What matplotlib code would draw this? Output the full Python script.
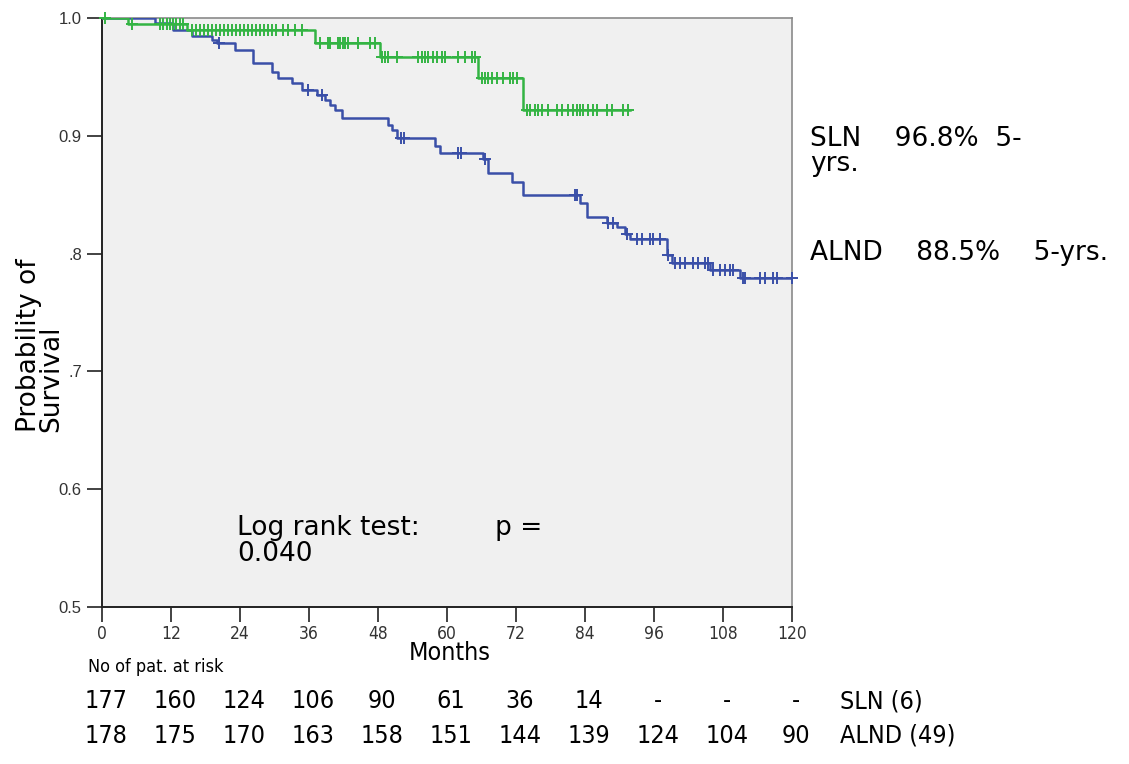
import numpy as np
import matplotlib.pyplot as plt
from matplotlib.transforms import blended_transform_factory

# Kaplan-Meier curves (months, survival after the step)
alnd_t = [0, 9.2, 12.3, 15.7, 19.1, 20.0, 23.1, 26.3, 29.6, 30.6, 33.0, 34.8, 37.4, 38.8,
          39.7, 40.5, 41.7, 49.7, 50.4, 51.3, 57.9, 58.8, 66.3, 67.1, 71.3, 73.2, 83.1,
          84.3, 87.8, 89.6, 91.0, 91.8, 98.3, 99.1, 105.7, 111.0]
alnd_s = [1.0, 0.996, 0.990, 0.985, 0.981, 0.979, 0.973, 0.962, 0.954, 0.949, 0.945, 0.939,
          0.935, 0.930, 0.926, 0.922, 0.915, 0.909, 0.905, 0.898, 0.891, 0.885, 0.880, 0.868,
          0.861, 0.850, 0.843, 0.831, 0.826, 0.823, 0.817, 0.812, 0.799, 0.792, 0.786, 0.779]
alnd_end = 120
alnd_cens = [20.3, 35.8, 38.3, 52.0, 52.5, 61.9, 62.4, 66.6, 82.3, 82.6, 88.0, 88.9, 91.3,
             93.0, 93.9, 95.3, 95.8, 97.0, 98.4, 99.7, 100.5, 101.4, 102.8, 103.7, 104.9,
             105.4, 106.3, 107.5, 108.3, 109.2, 109.7, 111.5, 111.8, 114.4, 115.3, 116.7,
             117.4, 120.0]

sln_t = [0, 4.5, 14.8, 37.0, 48.3, 65.4, 73.2]
sln_s = [1.0, 0.995, 0.990, 0.979, 0.967, 0.949, 0.922]
sln_end = 91.8
sln_cens = [0.5, 5.2, 10.1, 10.6, 11.3, 11.8, 12.3, 12.9, 13.6, 14.1,
            15.7, 16.3, 17.0, 17.7, 18.4, 19.1, 19.8, 20.5, 21.2, 21.9, 22.6, 23.3, 24.0,
            24.7, 25.4, 26.1, 26.8, 27.5, 28.2, 28.9, 29.6, 30.3, 31.5, 32.3, 33.6, 34.8,
            37.9, 39.3, 39.7, 41.0, 41.4, 41.9, 42.3, 42.8, 44.5, 46.6, 47.5,
            48.7, 49.2, 49.7, 51.3, 55.0, 55.7, 56.2, 56.7, 57.6, 58.3, 59.1, 59.7, 61.9,
            63.1, 64.3, 64.9, 66.1, 66.6, 67.1, 67.8, 68.7, 69.7, 71.0, 71.5, 72.2,
            73.9, 74.4, 75.3, 75.8, 76.5, 77.6, 79.1, 80.0, 81.0, 81.9, 82.6, 83.1, 83.7,
            84.5, 85.4, 86.1, 87.8, 88.7, 90.6, 91.5]

xticks = [0, 12, 24, 36, 48, 60, 72, 84, 96, 108, 120]
yticks = [0.5, 0.6, 0.7, 0.8, 0.9, 1.0]
ytick_labels = ['0.5', '0.6', '.7', '.8', '0.9', '1.0']

risk_sln = ['177', '160', '124', '106', '90', '61', '36', '14', '-', '-', '-']
risk_alnd = ['178', '175', '170', '163', '158', '151', '144', '139', '124', '104', '90']

BLUE = '#3a4fa8'
GREEN = '#33b443'
NARROW = dict(family='DejaVu Sans', fontstretch='condensed')


def step_at(t, s, x):
    i = np.searchsorted(t, x, side='right') - 1
    return np.array(s)[i]


W, H = 1129, 764
fig = plt.figure(figsize=(W / 100, H / 100), dpi=100)
ax = fig.add_axes([102 / W, 1 - 607 / H, 690 / W, 589 / H])
ax.set_facecolor('#f0f0f0')

for t, s, end, cens, col in [(alnd_t, alnd_s, alnd_end, alnd_cens, BLUE),
                             (sln_t, sln_s, sln_end, sln_cens, GREEN)]:
    tt = list(t) + [end]
    ss = list(s) + [s[-1]]
    ax.step(tt, ss, where='post', color=col, lw=1.8, zorder=3)
    cens = np.array(cens)
    ax.plot(cens, step_at(t, s, cens), ls='none', marker='+', ms=9, mew=1.4,
            color=col, zorder=4, clip_on=False)

ax.set_xlim(0, 120)
ax.set_ylim(0.5, 1.0)
ax.set_xticks(xticks)
ax.set_xticklabels([str(v) for v in xticks], fontsize=12.5, color='#333333', **NARROW)
ax.set_yticks(yticks)
ax.set_yticklabels(ytick_labels, family='Liberation Sans', fontsize=12, color='#333333')
ax.tick_params(axis='both', direction='out', length=11, width=1.2, color='#222222')
ax.tick_params(axis='x', pad=2)
for side in ['left', 'bottom']:
    ax.spines[side].set_color('#222222')
    ax.spines[side].set_linewidth(1.4)
for side in ['top', 'right']:
    ax.spines[side].set_color('#8a8a8a')
    ax.spines[side].set_linewidth(1.2)

big = dict(fontsize=19, family='DejaVu Sans', color='black')
fig.text(40 / W, 1 - 432 / H, 'Probability of\nSurvival', rotation=90, ha='center',
         va='bottom', multialignment='left', linespacing=0.85, **big)
fig.text(810 / W, 1 - 126 / H, 'SLN    96.8%  5-\nyrs.', ha='left', va='top',
         linespacing=0.95, **big)
fig.text(810 / W, 1 - 253 / H, 'ALND    88.5%    5-yrs.', ha='left', va='center', **big)
fig.text(237 / W, 1 - 515 / H, 'Log rank test:         p =\n0.040', ha='left', va='top',
         linespacing=1.0, **big)

fig.text(450 / W, 1 - 653 / H, 'Months', ha='center', va='center', fontsize=18, **NARROW)
fig.text(88 / W, 1 - 667 / H, 'No of pat. at risk', ha='left', va='center', fontsize=13,
         **NARROW)
tr = blended_transform_factory(ax.transData, fig.transFigure)
for row, y in [(risk_sln, 701), (risk_alnd, 736)]:
    for m, v in zip(xticks, row):
        ax.text(m + 0.7, 1 - y / H, v, transform=tr, ha='center', va='center', fontsize=18,
                clip_on=False, **NARROW)
fig.text(840 / W, 1 - 701 / H, 'SLN (6)', ha='left', va='center', fontsize=18, **NARROW)
fig.text(840 / W, 1 - 736 / H, 'ALND (49)', ha='left', va='center', fontsize=18, **NARROW)

fig.savefig('out.png', dpi=100)
